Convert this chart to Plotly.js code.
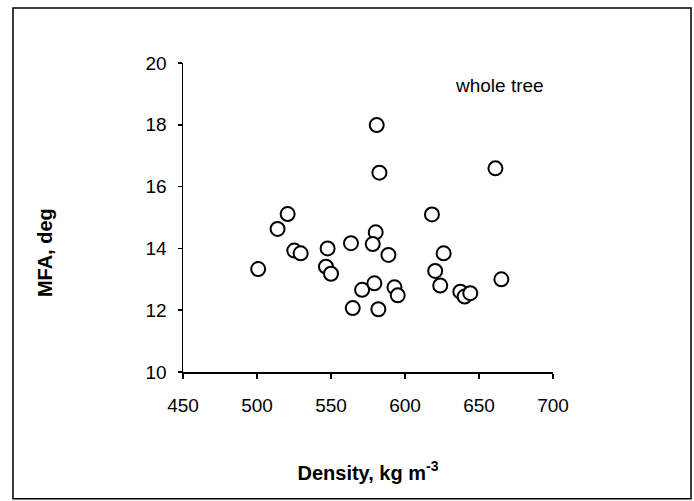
<!DOCTYPE html>
<html>
<head>
<meta charset="utf-8">
<script src="https://cdn.plot.ly/plotly-3.0.1.min.js"></script>
<style>html,body{margin:0;padding:0;background:#fff;}#chart{width:694px;height:501px;}</style>
</head>
<body>
<div id="chart"></div>
<script>
// Density (kg m-3) and MFA (deg), whole tree
const density = [500.8, 513.9, 520.7, 525.2, 529.5, 547.7, 546.6, 550.0, 563.5, 564.7,
                 571.0, 580.9, 582.7, 580.2, 578.2, 579.3, 582.0, 588.8, 592.9, 595.1,
                 618.2, 620.4, 626.1, 623.8, 637.4, 640.3, 644.1, 661.1, 665.1];
const mfa = [13.33, 14.63, 15.11, 13.93, 13.84, 14.00, 13.41, 13.18, 14.17, 12.07,
             12.66, 17.99, 16.45, 14.52, 14.14, 12.87, 12.03, 13.79, 12.74, 12.48,
             15.10, 13.27, 13.84, 12.80, 12.60, 12.44, 12.55, 16.59, 13.00];
const xTicks = [450, 500, 550, 600, 650, 700];
const yTicks = [10, 12, 14, 16, 18, 20];
const seriesLabel = 'whole tree';
const xTitle = 'Density, kg m<sup>-3</sup>';
const yTitle = 'MFA, deg';

const font = 'Liberation Sans, Arial, sans-serif';

const trace = {
  x: density, y: mfa, type: 'scatter', mode: 'markers',
  marker: {symbol: 'circle', size: 14, color: '#ffffff', line: {color: '#000000', width: 2}},
  showlegend: false, hoverinfo: 'x+y'
};

const layout = {
  width: 694, height: 501,
  margin: {l: 183, r: 141, t: 63, b: 129},
  paper_bgcolor: '#ffffff', plot_bgcolor: '#ffffff',
  font: {family: font, color: '#000000', size: 19},
  xaxis: {
    range: [450, 700], tickvals: xTicks, ticktext: xTicks.map(String),
    showgrid: false, zeroline: false, showline: true, linecolor: '#000', linewidth: 1.5,
    ticks: 'outside', ticklen: 5, tickwidth: 1.5, tickcolor: '#000',
    tickfont: {family: font, size: 19, color: '#000'}, ticklabelstandoff: 11,
    title: {text: xTitle, font: {family: font, size: 20, color: '#000', weight: 'bold'}, standoff: 50},
    automargin: false
  },
  yaxis: {
    range: [10, 20], tickvals: yTicks, ticktext: yTicks.map(String),
    showgrid: false, zeroline: false, showline: true, linecolor: '#000', linewidth: 1.5,
    ticks: 'outside', ticklen: 4, tickwidth: 1.5, tickcolor: '#000',
    tickfont: {family: font, size: 19, color: '#000'}, ticklabelstandoff: 7,
    automargin: false
  },
  annotations: [
    {text: seriesLabel, xref: 'x', yref: 'y', x: 664, y: 19.26, showarrow: false,
     xanchor: 'center', yanchor: 'middle', font: {family: font, size: 19, color: '#000'}},
    {text: '<b>' + yTitle + '</b>', xref: 'paper', yref: 'paper', x: -0.373, y: 0.388,
     textangle: -90, showarrow: false, xanchor: 'center', yanchor: 'middle',
     font: {family: font, size: 20, color: '#000'}}
  ],
  shapes: [
    {type: 'rect', xref: 'paper', yref: 'paper', x0: -0.4595, x1: 1.373, y0: -0.41, y1: 1.178,
     line: {color: '#000', width: 1.5}, fillcolor: 'rgba(0,0,0,0)', layer: 'below'}
  ]
};

Plotly.newPlot('chart', [trace], layout, {displayModeBar: false, staticPlot: true});
</script>
</body>
</html>
